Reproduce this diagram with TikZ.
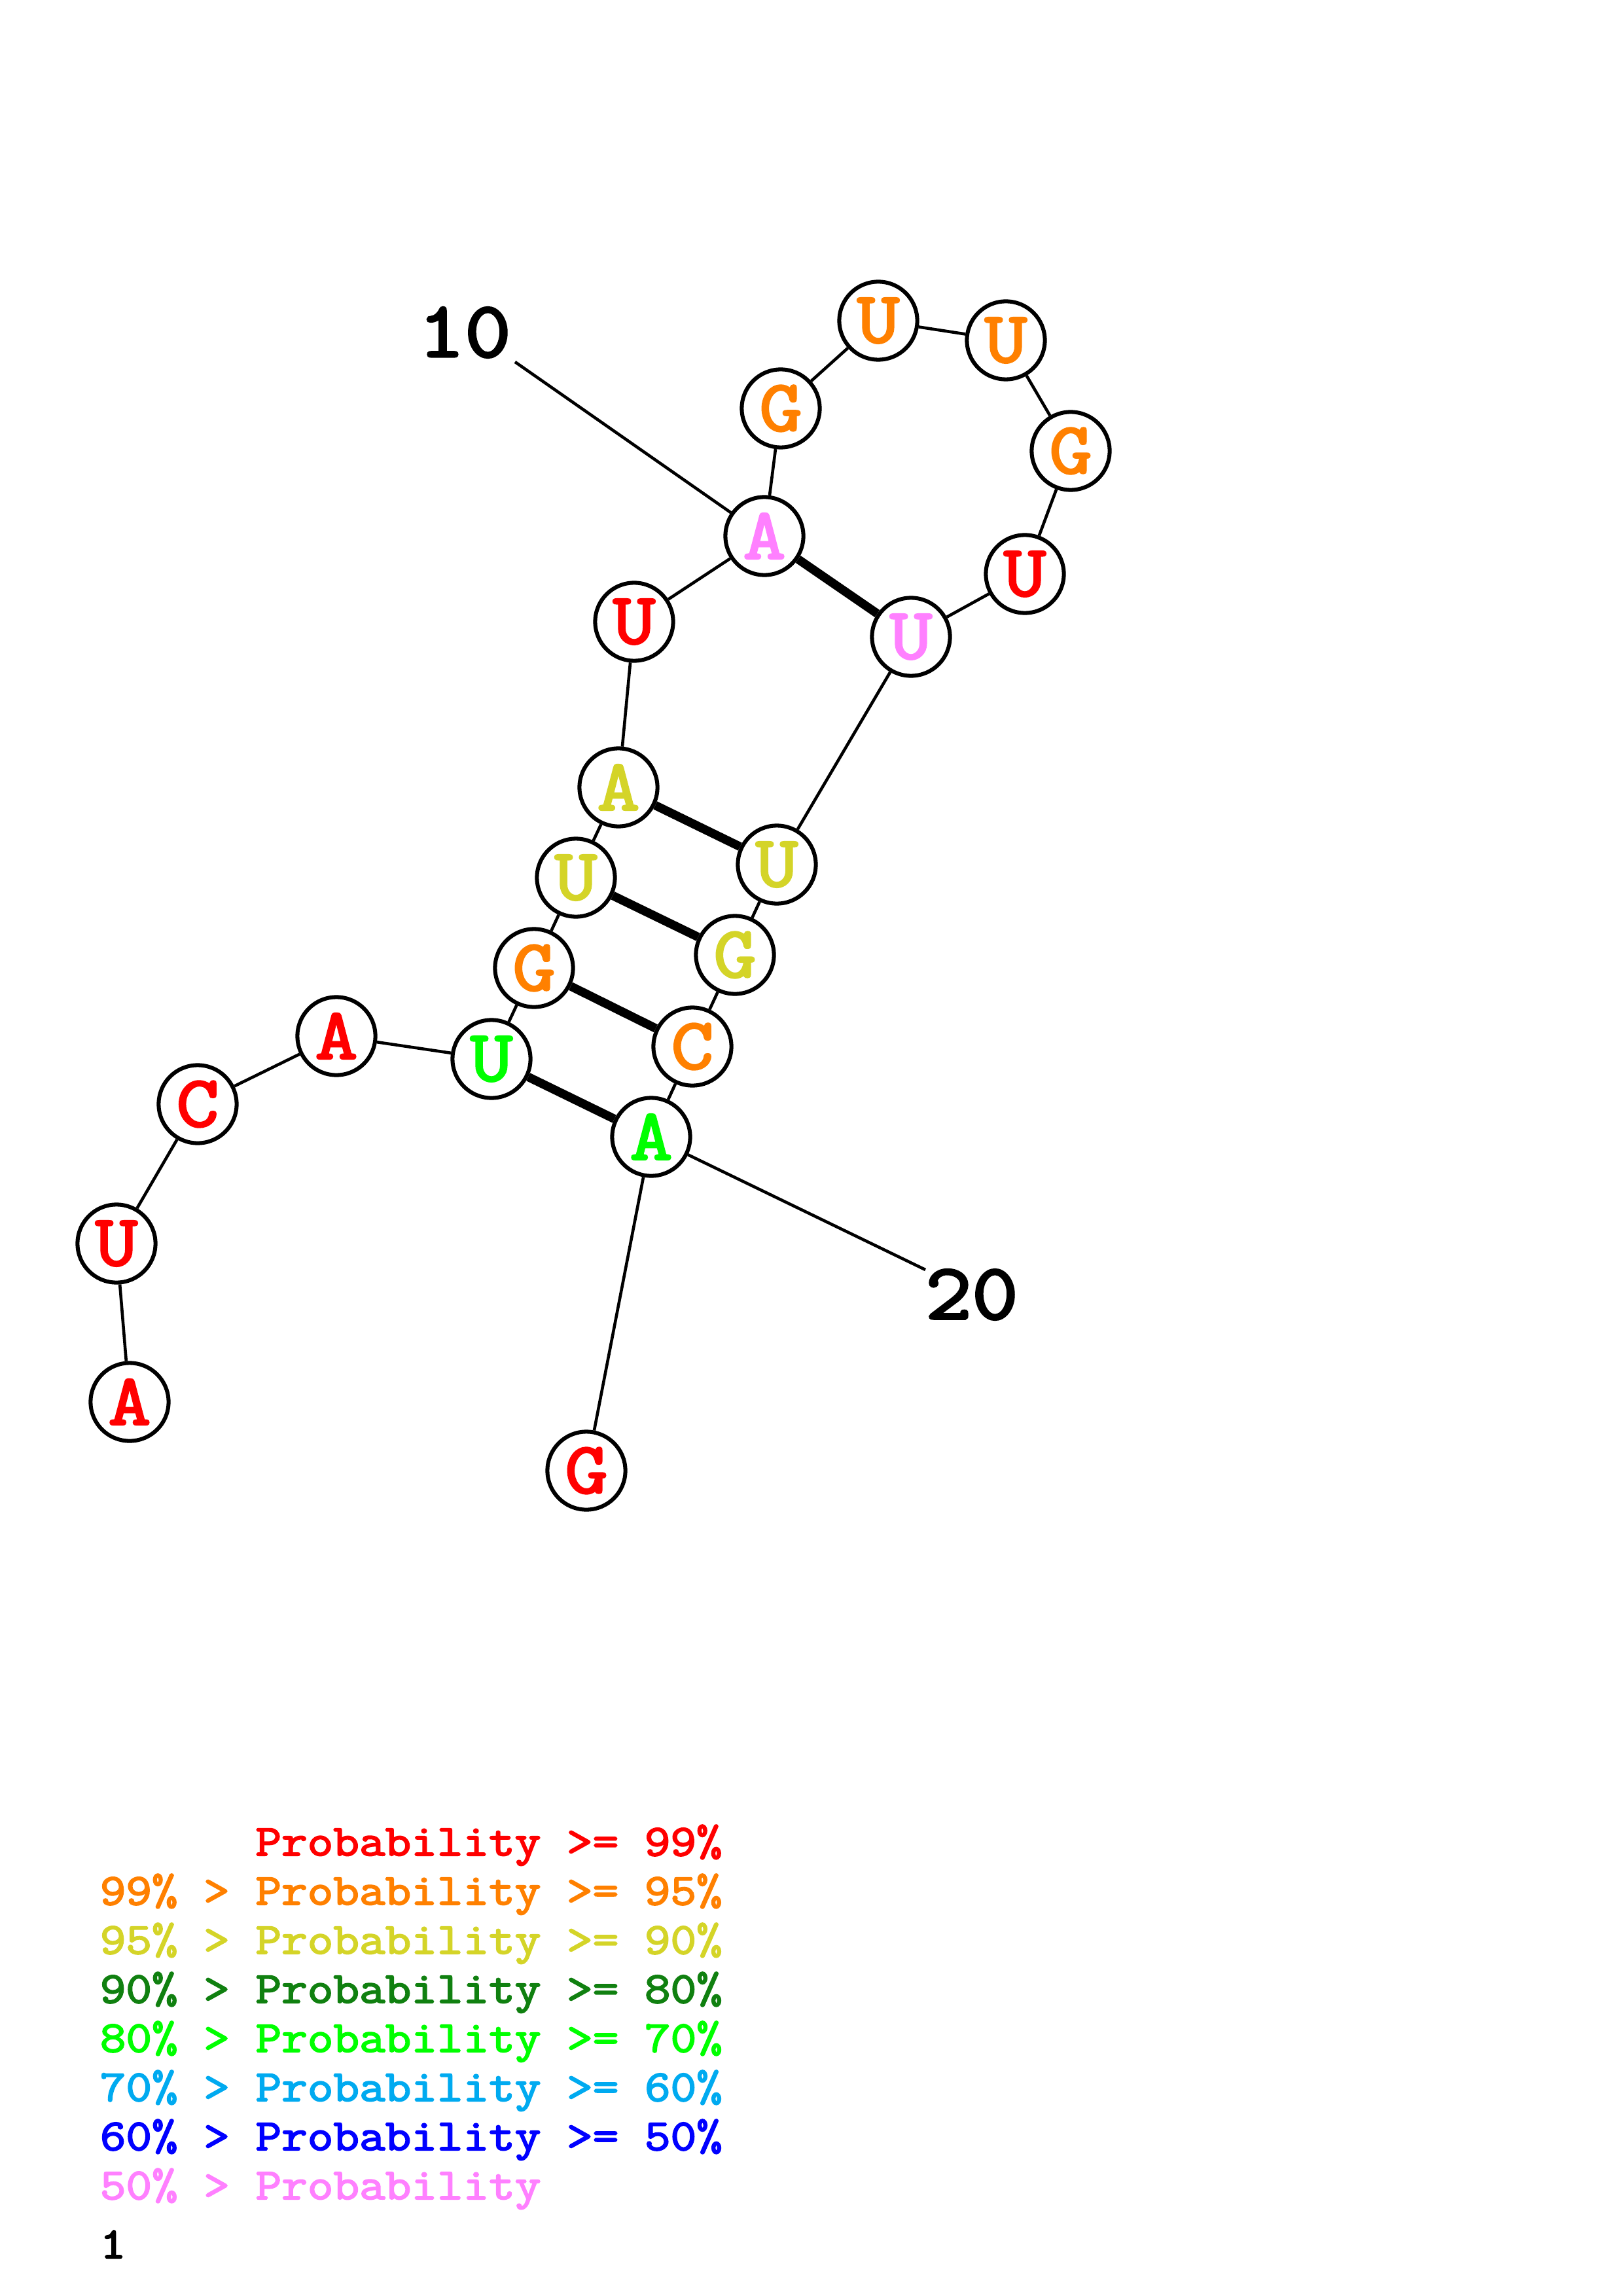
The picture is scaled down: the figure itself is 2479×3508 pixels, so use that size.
\documentclass[tikz,border=0pt]{standalone}
\usepackage{fontspec}
\newfontfamily\courb{Latin Modern Mono}[FakeBold=3,FakeStretch=1.14]
\usepackage{xcolor}
\definecolor{pr}{RGB}{255,0,0}
\definecolor{po}{RGB}{255,128,0}
\definecolor{py}{RGB}{212,212,40}
\definecolor{pdg}{RGB}{16,128,16}
\definecolor{plg}{RGB}{0,255,0}
\definecolor{plb}{RGB}{0,170,240}
\definecolor{pb}{RGB}{0,0,255}
\definecolor{pp}{RGB}{255,128,255}
\begin{document}
\begin{tikzpicture}[x=0.24pt,y=-0.24pt,
  nt/.style={circle,draw=black,line width=1.45pt,fill=white,minimum size=28.6pt,inner sep=0pt,
             font=\courb\fontsize{26.5}{26.5}\selectfont},
  bb/.style={line width=1.1pt},
  bp/.style={line width=3.2pt},
  lbl/.style={inner sep=0pt,font=\courb\fontsize{29}{29}\selectfont},
  leg/.style={anchor=base west,inner sep=0pt,font=\courb\fontsize{16.2}{16.2}\selectfont}]
\useasboundingbox[fill=white] (0,0) rectangle (2479,3508);

% nucleotides
\node[nt,text=pr]  (n1)  at (198,2142) {A};
\node[nt,text=pr]  (n2)  at (178,1900) {U};
\node[nt,text=pr]  (n3)  at (302,1687) {C};
\node[nt,text=pr]  (n4)  at (514,1583) {A};
\node[nt,text=plg] (n5)  at (751,1618) {U};
\node[nt,text=po]  (n6)  at (816,1479) {G};
\node[nt,text=py]  (n7)  at (880,1341) {U};
\node[nt,text=py]  (n8)  at (945,1203) {A};
\node[nt,text=pr]  (n9)  at (969,950)  {U};
\node[nt,text=pp]  (n10) at (1168,819) {A};
\node[nt,text=po]  (n11) at (1193,624) {G};
\node[nt,text=po]  (n12) at (1342,490) {U};
\node[nt,text=po]  (n13) at (1537,520) {U};
\node[nt,text=po]  (n14) at (1636,689) {G};
\node[nt,text=pr]  (n15) at (1566,877) {U};
\node[nt,text=pp]  (n16) at (1392,973) {U};
\node[nt,text=py]  (n17) at (1187,1321) {U};
\node[nt,text=py]  (n18) at (1123,1459) {G};
\node[nt,text=po]  (n19) at (1058,1599) {C};
\node[nt,text=plg] (n20) at (995,1737) {A};
\node[nt,text=pr]  (n21) at (896,2247) {G};

% backbone
\foreach \a/\b in {n1/n2,n2/n3,n3/n4,n4/n5,n5/n6,n6/n7,n7/n8,n8/n9,n9/n10,n10/n11,
                   n11/n12,n12/n13,n13/n14,n14/n15,n15/n16,n16/n17,n17/n18,n18/n19,n19/n20,n20/n21}
  \draw[bb] (\a) -- (\b);

% base pairs
\foreach \a/\b in {n10/n16,n8/n17,n7/n18,n6/n19,n5/n20}
  \draw[bp] (\a) -- (\b);

% numbering labels
\node[lbl] (l10) at (710,508) {10};
\coordinate (c10) at (787,553);
\draw[bb] (c10) -- (n10);
\node[lbl] (l20) at (1485,1978) {20};
\coordinate (c20) at (1414,1940);
\draw[bb] (n20) -- (c20);

% legend
\node[leg,text=pr]  (g1) at (152,2835) {\phantom{99\% > }Probability >= 99\%};
\node[leg,text=po]  (g2) at (152,2910) {99\% > Probability >= 95\%};
\node[leg,text=py]  (g3) at (152,2985) {95\% > Probability >= 90\%};
\node[leg,text=pdg] (g4) at (152,3060) {90\% > Probability >= 80\%};
\node[leg,text=plg] (g5) at (152,3135) {80\% > Probability >= 70\%};
\node[leg,text=plb] (g6) at (152,3210) {70\% > Probability >= 60\%};
\node[leg,text=pb]  (g7) at (152,3285) {60\% > Probability >= 50\%};
\node[leg,text=pp]  (g8) at (152,3360) {50\% > Probability};
\node[leg,text=black] (g9) at (152,3450) {1};
\end{tikzpicture}
\end{document}
